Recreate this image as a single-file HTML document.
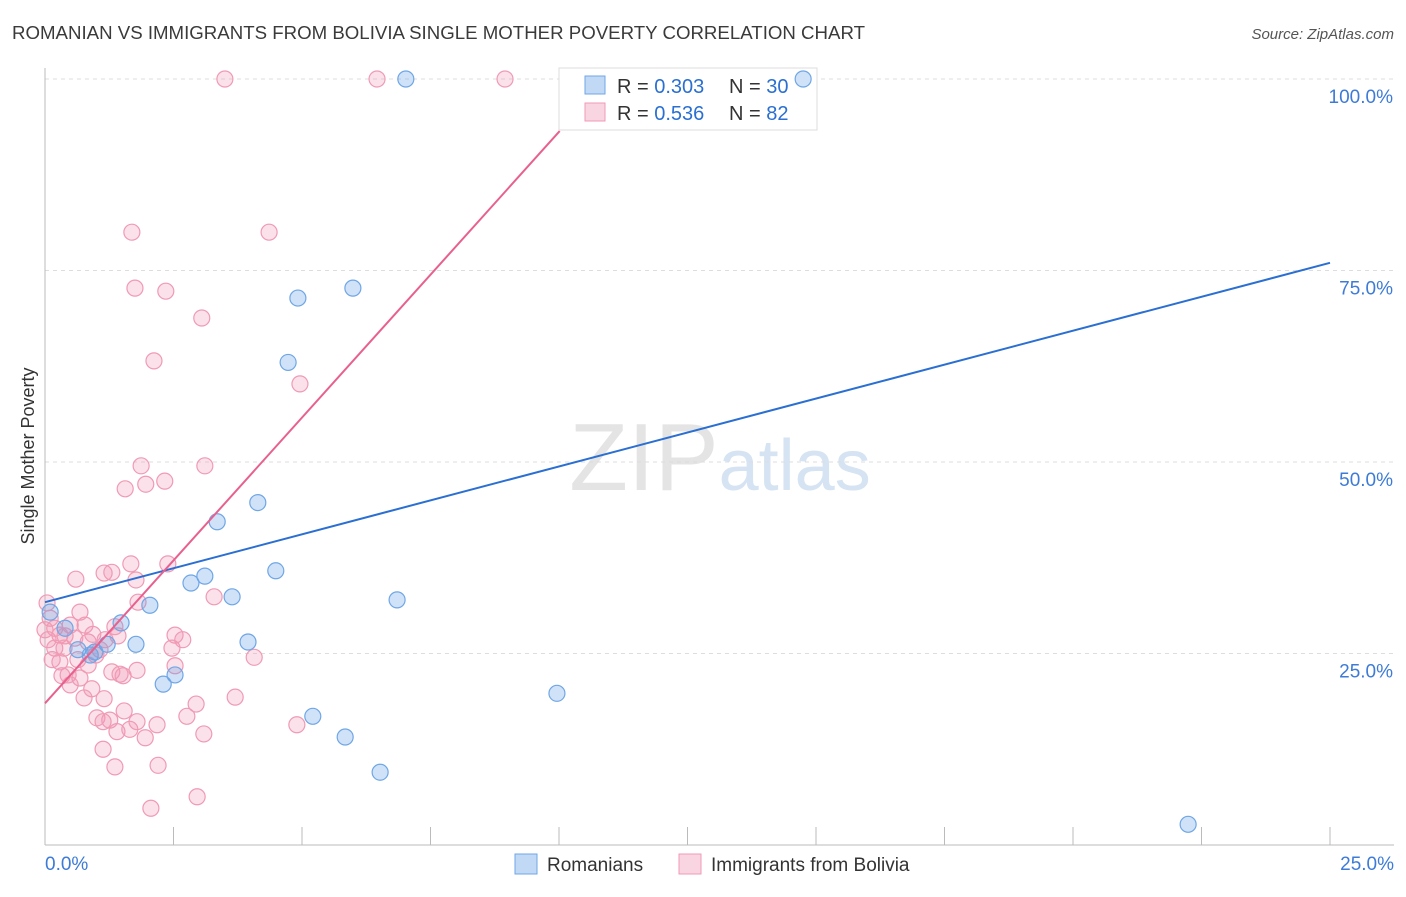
<!DOCTYPE html>
<html><head><meta charset="utf-8"><style>
body{margin:0;background:#fff;font-family:"Liberation Sans",sans-serif;}
svg text{font-family:"Liberation Sans",sans-serif;}
</style></head><body>
<svg id="chart" width="1406" height="892" viewBox="0 0 1406 892">
<text x="12" y="39" font-size="18" fill="#3a3a3a" textLength="853" lengthAdjust="spacingAndGlyphs">ROMANIAN VS IMMIGRANTS FROM BOLIVIA SINGLE MOTHER POVERTY CORRELATION CHART</text>
<text x="1394" y="39" font-size="15" fill="#555" font-style="italic" text-anchor="end">Source: ZipAtlas.com</text>
<text x="720" y="490" font-size="96" text-anchor="middle" fill="#e4e4e4" font-family="Liberation Serif,serif">ZIP<tspan fill="#d5e3f3" font-family="Liberation Sans,sans-serif" font-size="72">atlas</tspan></text>
<g id="grid"></g><g id="axes"></g>
<g>
<rect x="559" y="68" width="258" height="62" fill="#fff" stroke="#ddd"/>
<rect x="585" y="76" width="20" height="18" fill="rgba(100,160,230,0.4)" stroke="#6fa6e6"/>
<text x="617" y="93" font-size="20" fill="#333">R = <tspan fill="#2a6fd1">0.303</tspan></text>
<text x="729" y="93" font-size="20" fill="#333">N = <tspan fill="#2a6fd1">30</tspan></text>
<rect x="585" y="103" width="20" height="18" fill="rgba(240,150,180,0.4)" stroke="#f09ab5"/>
<text x="617" y="120" font-size="20" fill="#333">R = <tspan fill="#2a6fd1">0.536</tspan></text>
<text x="729" y="120" font-size="20" fill="#333">N = <tspan fill="#2a6fd1">82</tspan></text>
</g>
<g id="pts"></g><g id="lines"></g>
<text transform="translate(34,456) rotate(-90)" font-size="18" fill="#333" text-anchor="middle">Single Mother Poverty</text>
<g>
<rect x="515" y="854" width="22" height="20" fill="rgba(100,160,230,0.4)" stroke="#6fa6e6"/>
<text x="547" y="871" font-size="19" fill="#333">Romanians</text>
<rect x="679" y="854" width="22" height="20" fill="rgba(240,150,180,0.4)" stroke="#f09ab5"/>
<text x="711" y="871" font-size="19" fill="#333">Immigrants from Bolivia</text>
</g>
</svg>
<script>
const yTicks=[25,50,75,100];
const yTickLabels=["25.0%","50.0%","75.0%","100.0%"];
const xTickLabels=["0.0%","25.0%"];
const blueX=[7.02,14.75,4.92,5.99,4.73,4.14,3.35,4.49,3.11,2.84,3.64,2.04,6.85,1.48,0.39,1.21,1.77,3.95,0.64,0.97,2.53,2.30,9.96,5.21,5.84,6.52,22.24,0.1,0.88];
const blueY=[100,100,71.4,72.7,63.0,44.7,42.2,35.8,35.1,34.2,32.4,31.3,32.0,29.0,28.3,26.2,26.2,26.5,25.5,25.2,22.2,21.0,19.8,16.8,14.1,9.5,2.7,30.4,24.8];
const pinkX=[3.50,6.46,8.95,1.69,4.36,1.75,2.35,3.05,2.12,4.96,1.87,3.11,1.56,1.96,2.33,0.60,1.15,1.30,1.67,2.39,1.77,1.81,3.29,0.68,0.04,0.10,0.19,0.49,0.29,0.39,0.06,0.84,1.42,2.53,2.68,2.47,0.19,0.29,0.99,0.84,1.30,1.46,1.52,1.79,2.53,4.07,0.33,0.68,0.49,0.91,1.15,0.76,2.94,3.70,1.54,1.01,1.13,1.26,1.40,1.65,1.79,1.95,2.18,2.76,3.09,4.90,1.13,1.36,2.20,2.06,2.96,0.45,0.64,0.93,0.0,0.58,0.78,1.07,0.14,0.37,1.36,1.17];
const pinkY=[100,100,100,80.0,80.0,72.7,72.3,68.8,63.2,60.2,49.5,49.5,46.5,47.1,47.5,34.7,35.5,35.6,36.7,36.7,34.6,31.7,32.4,30.4,31.6,29.6,28.3,28.7,27.4,27.3,26.8,26.5,27.3,27.4,26.8,25.7,25.7,23.9,24.8,23.5,22.6,22.3,22.1,22.8,23.4,24.5,22.1,21.8,20.9,20.4,19.1,19.2,18.4,19.3,17.5,16.6,16.1,16.3,14.8,15.1,16.1,14.0,15.7,16.8,14.5,15.7,12.5,10.2,10.4,4.8,6.3,22.2,24.2,27.5,28.1,27.0,28.7,25.5,24.2,25.7,28.5,26.8];
const blueTrend=[31.7,76.0];
const pinkTrend=[18.5,7.46];
const NS="http://www.w3.org/2000/svg";
const X0=45,X1=1330,Y0=845,Y1=79;
const sx=v=>X0+v/25*(X1-X0), sy=v=>Y0-v/100*(Y0-Y1);
function mk(t,a,p){const e=document.createElementNS(NS,t);for(const k in a)e.setAttribute(k,a[k]);p.appendChild(e);return e;}
const grid=document.getElementById('grid'),axes=document.getElementById('axes'),pts=document.getElementById('pts'),lines=document.getElementById('lines');
yTicks.forEach((t,i)=>{
 const l=mk('line',{x1:X0,x2:1394,y1:sy(t),y2:sy(t),stroke:'#ddd','stroke-dasharray':'4,4'},grid);
 
 
 const tx=mk('text',{x:1393,y:sy(t)+24,'font-size':19,fill:'#3d7bd6','text-anchor':'end'},axes);
 tx.textContent=yTickLabels[i];
 
 
});
const ax=mk('line',{x1:X0,x2:X0,y1:68,y2:Y0,stroke:'#bbb'},axes);


const bx=mk('line',{x1:X0,x2:1394,y1:Y0,y2:Y0,stroke:'#bbb'},axes);


for(let i=1;i<=10;i++){const v=i*2.5;const t=mk('line',{x1:sx(v),x2:sx(v),y1:Y0,y2:Y0-18,stroke:'#bbb'},axes);
 
 }
[[0,'start',X0],[1,'end',1394]].forEach(([i,a,x])=>{const t=mk('text',{x:x,y:870,'font-size':19,fill:'#3d7bd6','text-anchor':a},axes);t.textContent=xTickLabels[i];
 
 });
pinkX.forEach((x,i)=>{const c=mk('circle',{cx:sx(x),cy:sy(pinkY[i]),r:8,fill:'rgba(240,150,180,0.28)',stroke:'#f09ab5','stroke-width':1.2},pts);
 
 });
blueX.forEach((x,i)=>{const c=mk('circle',{cx:sx(x),cy:sy(blueY[i]),r:8,fill:'rgba(100,160,230,0.3)',stroke:'#6fa6e6','stroke-width':1.2},pts);
 
 });
const bl=mk('line',{x1:sx(0),y1:sy(blueTrend[0]),x2:sx(25),y2:sy(blueTrend[1]),stroke:'#2a6fd1','stroke-width':2},lines);


const yEnd=93.2;
const xe=(yEnd-pinkTrend[0])/pinkTrend[1];
const pl=mk('line',{x1:sx(0),y1:sy(pinkTrend[0]),x2:sx(xe),y2:sy(yEnd),stroke:'#e8608e','stroke-width':2},lines);


</script>
</body></html>
